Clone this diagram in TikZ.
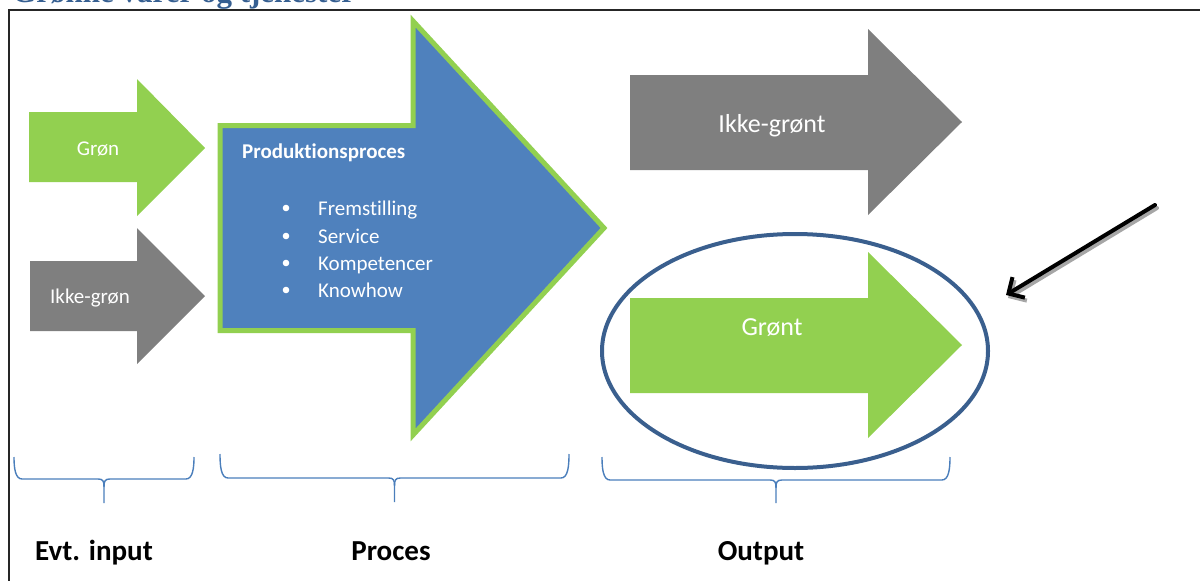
\documentclass[tikz,border=0pt]{standalone}
\usepackage{fontspec}
\setmainfont{Carlito}[Ligatures=NoCommon]
\newfontfamily\titlefont{Liberation Serif}
\usetikzlibrary{arrows.meta,shapes.geometric}
\definecolor{lgreen}{HTML}{92D050}
\definecolor{mgray}{HTML}{7F7F7F}
\definecolor{mblue}{HTML}{4F81BD}
\definecolor{eblue}{HTML}{3A5F8E}
\definecolor{bblue}{HTML}{4A7EBB}
\definecolor{tblue}{HTML}{365F91}
\tikzset{
  wtext/.style={text=white, inner sep=0pt, font=\fontsize{21}{25}\selectfont},
  biglabel/.style={text=black, inner sep=0pt, anchor=base, font=\bfseries\fontsize{29}{34}\selectfont},
  bracebrace/.style={draw=bblue, line width=1.4pt},
}
\newcommand\ubrace[5]{% left x, right x, top y, mid y, tip y
  \pgfmathsetmacro\bmid{(#1+#2)/2}
  \draw[bracebrace] (#1,#3) .. controls (#1,#4-12) and (#1+1,#4) .. (#1+8,#4)
    -- (\bmid-6,#4) .. controls (\bmid-1,#4) and (\bmid,#4+2) .. (\bmid,#4+8) -- (\bmid,#5);
  \draw[bracebrace] (\bmid,#4+8) .. controls (\bmid,#4+2) and (\bmid+1,#4) .. (\bmid+6,#4)
    -- (#2-8,#4) .. controls (#2-1,#4) and (#2,#4-12) .. (#2,#3);
}
\begin{document}
\begin{tikzpicture}[x=1pt,y=-1pt]
\useasboundingbox (0,0) rectangle (1200,581);
% title (cut off at the top)
\node[anchor=base west, inner sep=0pt, text=tblue, font=\titlefont\bfseries\fontsize{31}{36}\selectfont] (title) at (12,2.5) {Grønne varer og tjenester};
% frame
\draw[line width=2pt, black!85] (9,590) -- (9,10) -- (1210,10);

% input arrows
\fill[lgreen] (29,112) -- (137,112) -- (137,79) -- (205,148) -- (137,216) -- (137,182) -- (29,182) -- cycle;
\node[wtext, anchor=base] (gron) at (98,155) {Grøn};
\fill[mgray] (30,261) -- (137,261) -- (137,228) -- (205,296) -- (137,364) -- (137,331) -- (30,331) -- cycle;
\node[wtext, anchor=base] (ikkegron) at (90,303) {Ikke-grøn};

% process arrow
\draw[lgreen, fill=mblue, line width=5pt] (220,125.5) -- (413,125.5) -- (413,21) -- (604,228) -- (413,435) -- (413,330.5) -- (220,330.5) -- cycle;
\node[wtext, anchor=base west, font=\bfseries\fontsize{21}{25}\selectfont] (prod) at (242,158) {Produktionsproces};
\foreach \yy/\txt/\nm in {208/Fremstilling/i1, 236/Service/i2, 263/Kompetencer/i3, 290/Knowhow/i4}{
  \fill[white] (286,\yy) circle (3.3);
  \node[wtext, anchor=base west] (\nm) at (318,\yy+7) {\txt};
}

% output arrows
\fill[mgray] (630,75) -- (868,75) -- (868,29) -- (962,122) -- (868,215) -- (868,170) -- (630,170) -- cycle;
\node[wtext, anchor=base, font=\fontsize{26}{30}\selectfont] (ikkegront) at (772,132) {Ikke-grønt};
\fill[lgreen] (630,298) -- (868,298) -- (868,252) -- (962,345) -- (868,438) -- (868,393) -- (630,393) -- cycle;
\node[wtext, anchor=base, font=\fontsize{26}{30}\selectfont] (gront) at (772,335) {Grønt};

% highlight ellipse
\node[draw=eblue, line width=4pt, ellipse, minimum width=386pt, minimum height=234pt, inner sep=0pt] (ring) at (795,351) {};

% pointer arrow
\coordinate (pstart) at (1155,205);
\coordinate (pend) at (1006,295);
\draw[black!35, line width=4pt, line cap=round, -{Straight Barb[length=12pt,width=24pt]}] ([shift={(2,3)}]pstart) -- ([shift={(2,3)}]pend);
\draw[black, line width=4pt, line cap=round, -{Straight Barb[length=12pt,width=24pt]}] (pstart) -- (pend);

% braces
\ubrace{14}{194}{457}{479}{503}
\ubrace{220}{569}{454}{478}{502}
\ubrace{602}{950}{457}{480}{503}

% labels
\node[biglabel] (evt) at (94,560) {Evt. input};
\node[biglabel] (proces) at (391,560) {Proces};
\node[biglabel] (output) at (761,560) {Output};
\end{tikzpicture}
\end{document}
